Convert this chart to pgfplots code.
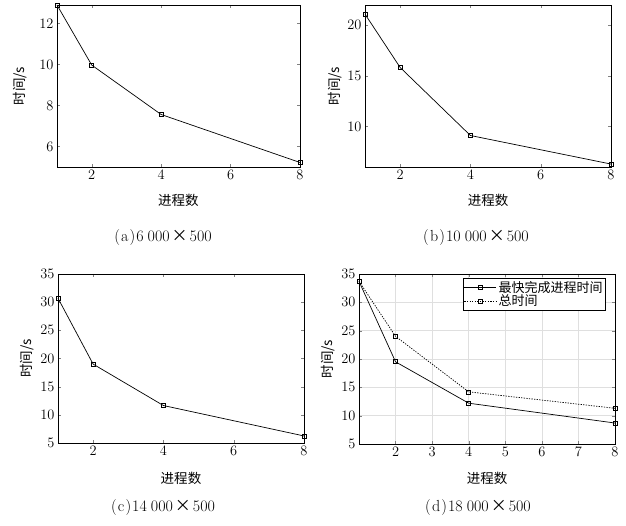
\documentclass[border=0pt]{standalone}
\usepackage{fontspec}
\usepackage{pgfplots}
\pgfplotsset{compat=1.18}
\newfontfamily\cjk{Noto Sans CJK SC}

\pgfplotsset{
  panel/.style={
    scale only axis,
    anchor=south west,
    xmin=1, xmax=8,
    tick align=inside,
    major tick length=3pt,
    tick label style={font=\fontsize{14}{16}\selectfont},
    label style={font=\cjk\fontsize{13.5}{15}\selectfont},
    xlabel={进程数},
    ylabel={时间/s},
    axis line style={line width=0.6pt},
    clip=false,
  },
  ln/.style={black, line width=0.7pt, mark=square, mark size=2pt, mark options={solid}},
}
\newcommand{\subcap}[2]{(\kern1.2pt #1\kern1.2pt)\kern1pt#2\kern4pt000\kern2pt{\cjk ×}\kern2pt500}

\begin{document}
\begin{tikzpicture}
\useasboundingbox (0,0) rectangle (626pt,526pt);

% (a)
\begin{axis}[panel, at={(57pt,359pt)}, width=243pt, height=162pt,
  ymin=5, ymax=12.9, xtick={2,4,6,8}, ytick={6,8,10,12},
  xlabel style={at={(axis description cs:0.5,-0.204)}, anchor=center},
  ylabel style={at={(axis description cs:-0.152,0.5)}, anchor=center}]
\addplot[ln] coordinates {(1,12.9) (2,9.97) (4,7.56) (8,5.22)};
\end{axis}

% (b)
\begin{axis}[panel, at={(365pt,359pt)}, width=246pt, height=162pt,
  ymin=6, ymax=22, xtick={2,4,6,8}, ytick={10,15,20},
  xlabel style={at={(axis description cs:0.5,-0.204)}, anchor=center},
  ylabel style={at={(axis description cs:-0.122,0.5)}, anchor=center}]
\addplot[ln] coordinates {(1,21.1) (2,15.83) (4,9.11) (8,6.29)};
\end{axis}

% (c)
\begin{axis}[panel, at={(58pt,83pt)}, width=246pt, height=169pt,
  ymin=5, ymax=35, xtick={2,4,6,8}, ytick={5,10,...,35},
  xlabel style={at={(axis description cs:0.5,-0.207)}, anchor=center},
  ylabel style={at={(axis description cs:-0.126,0.5)}, anchor=center}]
\addplot[ln] coordinates {(1,30.7) (2,19.0) (4,11.65) (8,6.25)};
\end{axis}

% (d)
\begin{axis}[panel, at={(359pt,82pt)}, width=256pt, height=170pt,
  ymin=5, ymax=35, xtick={2,3,...,8}, ytick={5,10,...,35},
  grid=major, grid style={gray!25, line width=0.5pt},
  xlabel style={at={(axis description cs:0.5,-0.2)}, anchor=center},
  ylabel style={at={(axis description cs:-0.121,0.5)}, anchor=center},
  legend style={at={(rel axis cs:0.965,0.977)}, anchor=north east,
    font=\cjk\fontsize{13}{15}\selectfont, draw=black, line width=0.6pt,
    inner sep=1pt, row sep=-3pt, cells={anchor=west}},
  legend image code/.code={\draw[mark repeat=2, mark phase=2]
    plot coordinates {(0pt,0pt) (16pt,0pt) (32pt,0pt)};}]
\addplot[ln] coordinates {(1,33.7) (2,19.5) (4,12.2) (8,8.7)};
\addplot[ln, dash pattern=on 1.3pt off 1.3pt] coordinates {(1,33.7) (2,24.0) (4,14.2) (8,11.3)};
\legend{最快完成进程时间, 总时间}
\end{axis}

\node[font=\fontsize{16}{18}\selectfont] at (163pt,288pt) {\subcap{a}{6}};
\node[font=\fontsize{16}{18}\selectfont] at (476pt,288pt) {\subcap{b}{10}};
\node[font=\fontsize{16}{18}\selectfont] at (163pt,18pt) {\subcap{c}{14}};
\node[font=\fontsize{16}{18}\selectfont] at (478pt,18pt) {\subcap{d}{18}};
\end{tikzpicture}
\end{document}
